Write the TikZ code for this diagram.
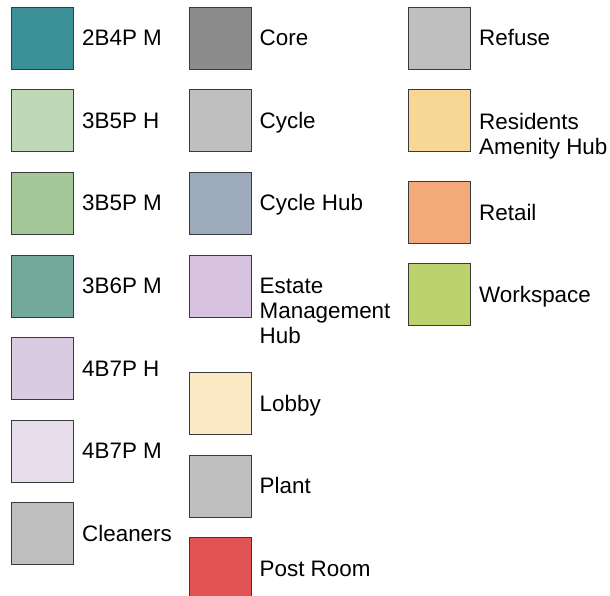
\documentclass[tikz,border=0pt]{standalone}
\usepackage{fontspec}
\setmainfont{Liberation Sans}
\definecolor{cA}{HTML}{3C9198}
\definecolor{cB}{HTML}{BFD9B8}
\definecolor{cC}{HTML}{A5C899}
\definecolor{cD}{HTML}{73A99B}
\definecolor{cE}{HTML}{D9CCE0}
\definecolor{cF}{HTML}{E6DCEB}
\definecolor{cGray}{HTML}{BFBFBF}
\definecolor{cCore}{HTML}{8C8C8C}
\definecolor{cCycHub}{HTML}{9DAABB}
\definecolor{cEst}{HTML}{D7C3E0}
\definecolor{cLobby}{HTML}{FBE8C5}
\definecolor{cPost}{HTML}{E25454}
\definecolor{cRes}{HTML}{F6D794}
\definecolor{cRet}{HTML}{F4AA78}
\definecolor{cWork}{HTML}{BBD36C}
\definecolor{edge}{HTML}{3A3A3A}
\tikzset{
  swatch/.style={draw=edge, line width=1pt, minimum width=62pt, minimum height=62pt, inner sep=0pt, anchor=north west},
  lbl/.style={anchor=base west, inner sep=0pt, font=\fontsize{22.4pt}{25pt}\selectfont, text=black}
}
\begin{document}
\begin{tikzpicture}[x=1pt,y=-1pt]
\useasboundingbox (0,0) rectangle (610,596);
% column 1
\node[swatch, fill=cA] (s1) at (11,7) {};
\node[lbl] (t1) at (82,46) {2B4P M};
\node[swatch, fill=cB] (s2) at (11,89.5) {};
\node[lbl] (t2) at (82,128.5) {3B5P H};
\node[swatch, fill=cC] (s3) at (11,172) {};
\node[lbl] (t3) at (82,211) {3B5P M};
\node[swatch, fill=cD] (s4) at (11,254.5) {};
\node[lbl] (t4) at (82,293.5) {3B6P M};
\node[swatch, fill=cE] (s5) at (11,337) {};
\node[lbl] (t5) at (82,376) {4B7P H};
\node[swatch, fill=cF] (s6) at (11,419.5) {};
\node[lbl] (t6) at (82,458.5) {4B7P M};
\node[swatch, fill=cGray] (s7) at (11,502) {};
\node[lbl] (t7) at (82,541) {Cleaners};
% column 2
\node[swatch, fill=cCore] (c1) at (189,7) {};
\node[lbl] (u1) at (259.5,46) {Core};
\node[swatch, fill=cGray] (c2) at (189,89.5) {};
\node[lbl] (u2) at (259.5,128.5) {Cycle};
\node[swatch, fill=cCycHub] (c3) at (189,172) {};
\node[lbl] (u3) at (259.5,211) {Cycle Hub};
\node[swatch, fill=cEst] (c4) at (189,254.5) {};
\node[lbl] (u4a) at (259.5,293.5) {Estate};
\node[lbl] (u4b) at (259.5,318.5) {Management};
\node[lbl] (u4c) at (259.5,343.5) {Hub};
\node[swatch, fill=cLobby] (c5) at (189,372.3) {};
\node[lbl] (u5) at (259.5,411.3) {Lobby};
\node[swatch, fill=cGray] (c6) at (189,454.7) {};
\node[lbl] (u6) at (259.5,493.7) {Plant};
\node[swatch, fill=cPost] (c7) at (189,537) {};
\node[lbl] (u7) at (259.5,576) {Post Room};
% column 3
\node[swatch, fill=cGray] (r1) at (408,7) {};
\node[lbl] (v1) at (479,46) {Refuse};
\node[swatch, fill=cRes] (r2) at (408,89.5) {};
\node[lbl] (v2a) at (479,130) {Residents};
\node[lbl] (v2b) at (479,155) {Amenity Hub};
\node[swatch, fill=cRet] (r3) at (408,181) {};
\node[lbl] (v3) at (479,220) {Retail};
\node[swatch, fill=cWork] (r4) at (408,263.3) {};
\node[lbl] (v4) at (479,302.3) {Workspace};
\end{tikzpicture}
\end{document}
